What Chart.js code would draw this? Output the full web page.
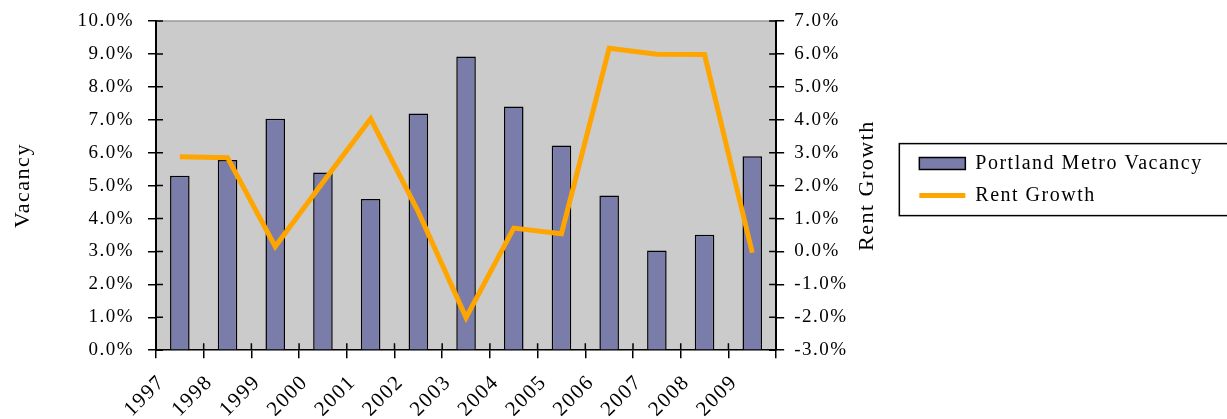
<!DOCTYPE html>
<html>
<head>
<meta charset="utf-8">
<script src="https://cdn.jsdelivr.net/npm/chart.js@4.4.1/dist/chart.umd.min.js"></script>
<style>
  html, body { margin: 0; padding: 0; background: #fff; overflow: hidden; }
  #wrap { width: 1227px; height: 419px; position: relative; }
</style>
</head>
<body>
<div id="wrap"><canvas id="VacancyRentChart"></canvas></div>
<script>
const years = ['1997', '1998', '1999', '2000', '2001', '2002', '2003', '2004', '2005', '2006', '2007', '2008', '2009']
const vacancy = [5.3, 5.78, 7.03, 5.4, 4.59, 7.19, 8.92, 7.4, 6.22, 4.7, 3.03, 3.51, 5.89]
const rentGrowth = [2.88, 2.85, 0.15, 2.1, 4.03, 1.2, -2.01, 0.71, 0.54, 6.17, 5.99, 5.98, -0.04]
const vacancyRange = [0, 10]
const rentRange = [-3, 7]

const serif = '"Liberation Serif", "DejaVu Serif", serif'
const rentTitle = 'Rent Growth'

// canvas resets its state on resize, so letter spacing is set again before layout and draw
const spacing = {
  id: 'spacing',
  beforeUpdate(chart) { chart.ctx.letterSpacing = '1.5px' },
  beforeDraw(chart) { chart.ctx.letterSpacing = '1.5px' }
}

// grey plot area, drawn before the axes so the axis lines stay on top
const plotBackground = {
  id: 'plotBackground',
  beforeDraw(chart) {
    const { ctx, chartArea: a } = chart
    ctx.save()
    ctx.fillStyle = '#cbcbcb'
    ctx.fillRect(a.left, a.top, a.width, a.height)
    ctx.strokeStyle = '#999999'
    ctx.lineWidth = 1.5
    ctx.beginPath()
    ctx.moveTo(a.left, a.top)
    ctx.lineTo(a.right, a.top)
    ctx.stroke()
    ctx.restore()
  }
}

// tick marks cross the axes in the original: add the inner halves
const innerTicks = {
  id: 'innerTicks',
  afterDraw(chart) {
    const { ctx, chartArea: a, scales } = chart
    ctx.save()
    ctx.strokeStyle = '#000'
    ctx.lineWidth = 1.5
    ctx.beginPath()
    scales.yVacancy.ticks.forEach((t) => {
      const y = scales.yVacancy.getPixelForValue(t.value)
      ctx.moveTo(a.left, y)
      ctx.lineTo(a.left + 7, y)
    })
    scales.yRent.ticks.forEach((t) => {
      const y = scales.yRent.getPixelForValue(t.value)
      ctx.moveTo(a.right - 7, y)
      ctx.lineTo(a.right, y)
    })
    const x = scales.x
    const half = (x.getPixelForValue(1) - x.getPixelForValue(0)) / 2
    for (let i = 0; i <= years.length; i++) {
      const px = x.getPixelForValue(i) - half
      ctx.moveTo(px, a.bottom - 7)
      ctx.lineTo(px, a.bottom)
    }
    ctx.stroke()
    ctx.restore()
  }
}

// legend sits beside the plot and runs off the right edge, like the original
const legendPlace = {
  id: 'legendPlace',
  afterLayout(chart) {
    const l = chart.legend
    const a = chart.chartArea
    l.left += 8
    l.right = chart.width + 20
    l.width = l.right - l.left
    l.top = a.top
    l.bottom = a.bottom - 12
    l.height = l.bottom - l.top
  }
}

const legendFrame = {
  id: 'legendFrame',
  afterDraw(chart) {
    const l = chart.legend
    const boxes = l.legendHitBoxes
    if (!boxes || !boxes.length) return
    const ctx = chart.ctx
    const last = boxes[boxes.length - 1]
    const top = boxes[0].top - 10
    const bottom = last.top + last.height + 10
    ctx.save()
    ctx.strokeStyle = '#000'
    ctx.lineWidth = 1.5
    ctx.strokeRect(l.left - 8, top, l.right - l.left + 8, bottom - top)
    ctx.restore()
  }
}

// right axis title reads bottom to top in the original
const rentTitleDraw = {
  id: 'rentTitleDraw',
  afterDraw(chart) {
    const s = chart.scales.yRent
    const ctx = chart.ctx
    ctx.save()
    ctx.fillStyle = '#000'
    ctx.font = '22px ' + serif
    ctx.textAlign = 'center'
    ctx.textBaseline = 'middle'
    ctx.translate(s.left + 91, (s.top + s.bottom) / 2)
    ctx.rotate(-Math.PI / 2)
    ctx.fillText(rentTitle, 0, 0)
    ctx.restore()
  }
}

function pct(value) {
  return value.toFixed(1) + '%'
}

// keep the plot top where the original has it
function trimTop(scale) {
  scale.paddingTop = 21
}

const ctx = document.getElementById('VacancyRentChart')

new Chart(ctx, {
  type: 'bar',
  data: {
    labels: years,
    datasets: [
      {
        label: 'Portland Metro Vacancy',
        data: vacancy,
        backgroundColor: '#7a7ca9',
        borderColor: '#000',
        borderWidth: 1.5,
        barPercentage: 0.41,
        categoryPercentage: 1,
        yAxisID: 'yVacancy',
        pointStyle: 'rect',
        order: 2
      },
      {
        type: 'line',
        label: 'Rent Growth',
        data: rentGrowth,
        borderColor: '#ffa500',
        backgroundColor: '#ffa500',
        borderWidth: 5,
        pointRadius: 0,
        tension: 0,
        pointStyle: 'line',
        yAxisID: 'yRent',
        order: 1
      }
    ]
  },
  options: {
    responsive: true,
    maintainAspectRatio: false,
    animation: false,
    layout: { padding: { top: 1, left: 6, right: 149, bottom: 0 } },
    plugins: {
      tooltip: { enabled: false },
      legend: {
        position: 'right',
        labels: {
          usePointStyle: true,
          pointStyleWidth: 46,
          boxHeight: 12,
          padding: 12,
          color: '#000',
          font: { family: serif, size: 20 },
          sort: (a, b) => a.datasetIndex - b.datasetIndex
        }
      }
    },
    scales: {
      x: {
        offset: true,
        grid: { offset: true, drawOnChartArea: false, color: '#000', lineWidth: 1.5, tickLength: 8 },
        border: { display: true, color: '#000', width: 1.5 },
        afterFit(scale) { scale.height -= 15 },
        ticks: {
          color: '#000',
          minRotation: 45,
          maxRotation: 45,
          labelOffset: -18,
          padding: 12,
          font: { family: serif, size: 21 }
        }
      },
      yVacancy: {
        type: 'linear',
        position: 'left',
        min: vacancyRange[0],
        max: vacancyRange[1],
        afterFit: trimTop,
        grid: { drawOnChartArea: false, color: '#000', lineWidth: 1.5, tickLength: 8 },
        border: { display: true, color: '#000', width: 2 },
        ticks: {
          stepSize: 1,
          color: '#000',
          padding: 14,
          font: { family: serif, size: 19 },
          callback: pct
        },
        title: {
          display: true,
          text: 'Vacancy',
          color: '#000',
          padding: { bottom: 27 },
          font: { family: serif, size: 22 }
        }
      },
      yRent: {
        type: 'linear',
        position: 'right',
        min: rentRange[0],
        max: rentRange[1],
        afterFit: trimTop,
        grid: { drawOnChartArea: false, color: '#000', lineWidth: 1.5, tickLength: 8 },
        border: { display: true, color: '#000', width: 2 },
        ticks: {
          stepSize: 1,
          color: '#000',
          padding: 10,
          font: { family: serif, size: 19 },
          callback: pct
        },
        title: {
          display: true,
          text: rentTitle,
          color: 'rgba(0,0,0,0)',
          padding: { top: 4, bottom: 15 },
          font: { family: serif, size: 19 }
        }
      }
    }
  },
  plugins: [spacing, plotBackground, innerTicks, legendPlace, legendFrame, rentTitleDraw]
})
</script>
</body>
</html>
